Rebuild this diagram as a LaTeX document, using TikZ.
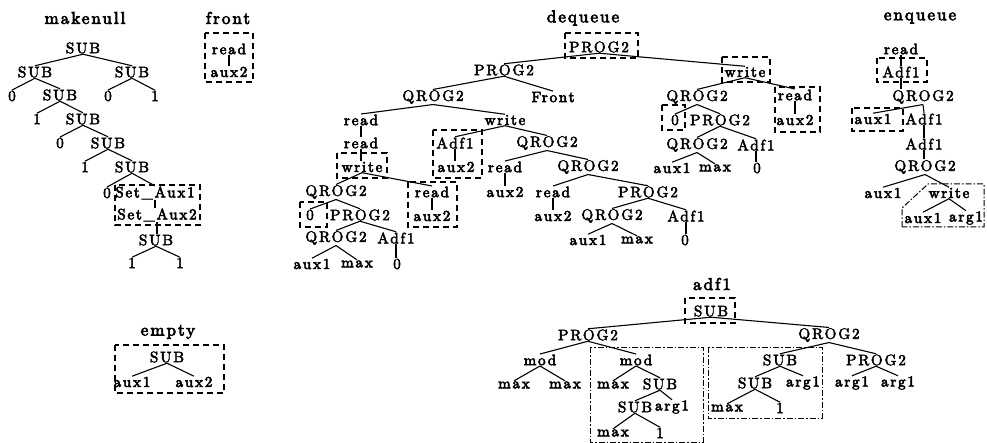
\documentclass[tikz,border=0pt]{standalone}
\usepackage{fontspec}
\newfontfamily\labF{lmroman10}[Extension=.otf, UprightFont=*-regular, BoldFont=*-bold, LetterSpace=12]
\tikzset{
  uc/.style={inner sep=0.5pt, font={\labF\fontsize{15.2}{18}\selectfont},
    execute at begin node={\special{pdf:literal direct 2 Tr 0.45 w}},
    execute at end node={\special{pdf:literal direct 0 Tr}}},
  lc/.style={inner sep=0.5pt, font={\labF\fontsize{15}{18}\selectfont},
    execute at begin node={\special{pdf:literal direct 2 Tr 0.6 w}},
    execute at end node={\special{pdf:literal direct 0 Tr}}},
  ttl/.style={inner sep=0.5pt, font={\labF\fontsize{17}{20}\selectfont},
    execute at begin node={\special{pdf:literal direct 2 Tr 0.7 w}},
    execute at end node={\special{pdf:literal direct 0 Tr}}},
  ed/.style={line width=1.1pt},
  vt/.style={line width=2pt},
  dbox/.style={line width=1.7pt, dash pattern=on 6pt off 4pt},
  dd/.style={line width=1pt, dash pattern=on 6pt off 2pt on 1.5pt off 2pt},
}
\newcommand{\E}[2]{\draw[ed] (#1.south) -- (#2.north);}
\newcommand{\V}[2]{\draw[vt] (#1.south) -- (#1.south |- #2.north);}
\begin{document}
\begin{tikzpicture}[x=1pt,y=-1pt]
\useasboundingbox (0,0) rectangle (987,443);
% ---------------- makenull
\node[ttl] (mkT) at (85,18) {makenull};
\node[uc] (m1) at (83,48) {SUB};
\node[uc] (m2) at (35,72) {SUB};
\node[uc] (m3) at (132,72) {SUB};
\node[uc] (m4) at (12,96) {0};
\node[uc] (m5) at (60,95) {SUB};
\node[uc] (m6) at (108,96) {0};
\node[uc] (m7) at (155,96) {1};
\node[uc] (m8) at (37,119) {1};
\node[uc] (m9) at (83,119) {SUB};
\node[uc] (m10) at (60,143) {0};
\node[uc] (m11) at (108,143) {SUB};
\node[uc] (m12) at (85,167) {1};
\node[uc] (m13) at (132,167) {SUB};
\node[uc] (m14) at (107,193) {0};
\node[lc] (m15) at (155,193) {Set\_Aux1};
\node[lc] (m16) at (157,215) {Set\_Aux2};
\node[uc] (m17) at (156,240) {SUB};
\node[uc] (m18) at (132,263) {1};
\node[uc] (m19) at (180,263) {1};
\E{m1}{m2}\E{m1}{m3}\E{m2}{m4}\E{m2}{m5}\E{m3}{m6}\E{m3}{m7}
\E{m5}{m8}\E{m5}{m9}\E{m9}{m10}\E{m9}{m11}\E{m11}{m12}\E{m11}{m13}
\E{m13}{m14}\E{m13}{m15}\V{m15}{m16}\V{m16}{m17}\E{m17}{m18}\E{m17}{m19}
\draw[dbox] (115,185) rectangle (200,225);
% ---------------- front
\node[ttl] (fT) at (228,18) {front};
\node[lc] (f1) at (229,49) {read};
\node[lc] (f2) at (229,72) {aux2};
\V{f1}{f2}
\draw[dbox] (205,33) rectangle (253,82);
% ---------------- empty
\node[ttl] (eT) at (168,332) {empty};
\node[uc] (e1) at (167,357) {SUB};
\node[lc] (e2) at (132,382) {aux1};
\node[lc] (e3) at (194,382) {aux2};
\E{e1}{e2}\E{e1}{e3}
\draw[dbox] (115,345) rectangle (224,393);
% ---------------- dequeue
\node[ttl] (dT) at (583,18) {dequeue};
\node[uc] (d1) at (599,47) {PROG2};
\node[uc] (d2) at (504,70) {PROG2};
\node[uc] (d3) at (433,97) {QROG2};
\node[lc] (d4) at (553,97) {Front};
\node[lc] (d5) at (361,120) {read};
\node[lc] (d6) at (505,120) {write};
\node[lc] (d7) at (361,143) {read};
\node[lc] (d8) at (362,167) {write};
\node[uc] (d9) at (336,192) {QROG2};
\node[lc] (d10) at (432,192) {read};
\node[uc] (d11) at (310,215) {0};
\node[uc] (d12) at (360,215) {PROG2};
\node[lc] (d13) at (432,216) {aux2};
\node[uc] (d14) at (336,238) {QROG2};
\node[uc] (d15) at (396,238) {Adf1};
\node[lc] (d16) at (312,264) {aux1};
\node[lc] (d17) at (357,264) {max};
\node[uc] (d18) at (397,264) {0};
\node[uc] (d19) at (455,143) {Adf1};
\node[lc] (d20) at (456,167) {aux2};
\node[uc] (d21) at (547,143) {QROG2};
\node[lc] (d22) at (505,167) {read};
\node[uc] (d23) at (588,167) {QROG2};
\node[lc] (d24) at (505,192) {aux2};
\node[lc] (d25) at (553,192) {read};
\node[uc] (d26) at (648,192) {PROG2};
\node[lc] (d27) at (553,216) {aux2};
\node[uc] (d28) at (612,216) {QROG2};
\node[uc] (d29) at (686,216) {Adf1};
\node[lc] (d30) at (588,240) {aux1};
\node[lc] (d31) at (637,240) {max};
\node[uc] (d32) at (685,240) {0};
\node[lc] (d33) at (745,72) {write};
\node[uc] (d34) at (697,97) {QROG2};
\node[lc] (d35) at (795,95) {read};
\node[uc] (d36) at (675,120) {0};
\node[uc] (d37) at (720,120) {PROG2};
\node[lc] (d38) at (795,120) {aux2};
\node[uc] (d39) at (697,145) {QROG2};
\node[uc] (d40) at (756,145) {Adf1};
\node[lc] (d41) at (672,168) {aux1};
\node[lc] (d42) at (715,168) {max};
\node[uc] (d43) at (757,168) {0};
\E{d1}{d2}\E{d1}{d33}\E{d2}{d3}\E{d2}{d4}\E{d3}{d5}\E{d3}{d6}
\V{d5}{d7}\V{d7}{d8}\E{d8}{d9}\E{d8}{d10}\E{d9}{d11}\E{d9}{d12}
\E{d12}{d14}\E{d12}{d15}\E{d14}{d16}\E{d14}{d17}\V{d15}{d18}\V{d10}{d13}
\E{d6}{d19}\E{d6}{d21}\V{d19}{d20}\E{d21}{d22}\E{d21}{d23}\V{d22}{d24}
\E{d23}{d25}\E{d23}{d26}\V{d25}{d27}\E{d26}{d28}\E{d26}{d29}
\E{d28}{d30}\E{d28}{d31}\V{d29}{d32}
\E{d33}{d34}\E{d33}{d35}\E{d34}{d36}\E{d34}{d37}\E{d37}{d39}\E{d37}{d40}
\E{d39}{d41}\E{d39}{d42}\V{d40}{d43}\V{d35}{d38}
\draw[dbox] (565,33) rectangle (638,58);
\draw[dbox] (337,153) rectangle (387,178);
\draw[dbox] (300,202) rectangle (327,227);
\draw[dbox] (408,182) rectangle (457,227);
\draw[dbox] (433,130) rectangle (482,178);
\draw[dbox] (722,57) rectangle (770,82);
\draw[dbox] (662,105) rectangle (685,130);
\draw[dbox] (775,87) rectangle (820,132);
% ---------------- enqueue
\node[ttl] (nT) at (920,18) {enqueue};
\node[lc] (n1) at (901,49) {read};
\node[uc] (n2) at (901,72) {Adf1};
\node[uc] (n3) at (923,97) {QROG2};
\node[lc] (n4) at (873,119) {aux1};
\node[uc] (n5) at (924,119) {Adf1};
\node[uc] (n6) at (924,144) {Adf1};
\node[uc] (n7) at (925,167) {QROG2};
\node[lc] (n8) at (883,193) {aux1};
\node[lc] (n9) at (949,193) {write};
\node[lc] (n10) at (923,218) {aux1};
\node[lc] (n11) at (966,218) {arg1};
\V{n1}{n2}\V{n2}{n3}\E{n3}{n4}\E{n3}{n5}\V{n5}{n6}\V{n6}{n7}
\E{n7}{n8}\E{n7}{n9}\E{n9}{n10}\E{n9}{n11}
\draw[dbox] (877,58) rectangle (927,82);
\draw[dbox] (852,108) rectangle (903,131);
\draw[dd] (902,227) -- (902,208) -- (928,184) -- (984,184) -- (984,227) -- cycle;
% ---------------- adf1
\node[ttl] (aT) at (712,284) {adf1};
\node[uc] (a1) at (711,311) {SUB};
\node[uc] (a2) at (588,335) {PROG2};
\node[uc] (a3) at (829,335) {QROG2};
\node[lc] (a4) at (540,360) {mod};
\node[lc] (a5) at (636,360) {mod};
\node[lc] (a6) at (514,385) {max};
\node[lc] (a7) at (565,385) {max};
\node[lc] (a8) at (613,385) {max};
\node[uc] (a9) at (660,384) {SUB};
\node[uc] (a10) at (635,407) {SUB};
\node[lc] (a11) at (672,407) {arg1};
\node[lc] (a12) at (613,433) {max};
\node[uc] (a13) at (660,433) {1};
\node[uc] (a14) at (780,360) {SUB};
\node[uc] (a15) at (876,360) {PROG2};
\node[uc] (a16) at (755,383) {SUB};
\node[lc] (a17) at (803,383) {arg1};
\node[lc] (a18) at (852,383) {arg1};
\node[lc] (a19) at (898,383) {arg1};
\node[lc] (a20) at (727,408) {max};
\node[uc] (a21) at (780,408) {1};
\E{a1}{a2}\E{a1}{a3}\E{a2}{a4}\E{a2}{a5}\E{a4}{a6}\E{a4}{a7}\E{a5}{a8}\E{a5}{a9}
\E{a9}{a10}\E{a9}{a11}\E{a10}{a12}\E{a10}{a13}\E{a3}{a14}\E{a3}{a15}
\E{a14}{a16}\E{a14}{a17}\E{a16}{a20}\E{a16}{a21}\E{a15}{a18}\E{a15}{a19}
\draw[dbox] (685,298) rectangle (735,323);
\draw[dd] (590,347) rectangle (703,442);
\draw[dd] (708,347) rectangle (822,418);
\end{tikzpicture}
\end{document}
